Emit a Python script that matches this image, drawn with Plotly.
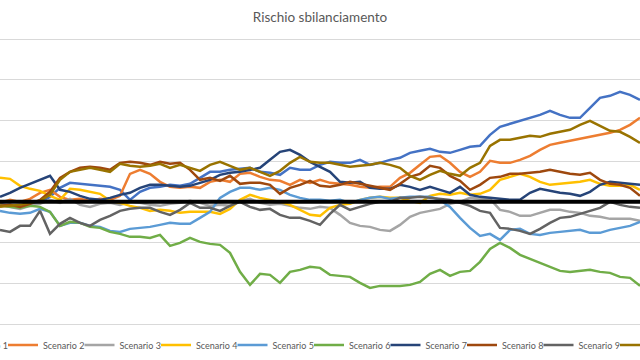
import plotly.graph_objects as go

# x positions: one sample per step along the (cropped) time axis
steps = list(range(65))

scenario_names = [f"Scenario {i}" for i in range(1, 11)]
colors = ["#4472C4", "#ED7D31", "#A5A5A5", "#FFC000", "#5B9BD5",
          "#70AD47", "#264478", "#9E480E", "#636363", "#997300"]

s1 = [-2, -4, -5, -3, -1, 5, 14, 19, 18, 17, 16, 15, 12, 2, 10, 14, 15, 17, 16, 18, 24, 30, 30, 32, 33, 34, 30, 29, 27, 34, 32, 32, 37, 40, 39, 39, 42, 37, 39, 42, 44, 49, 51, 53, 50, 49, 52, 55, 56, 67, 75, 78, 81, 84, 87, 91, 87, 84, 84, 94, 104, 106, 110, 107, 102]
s2 = [-1, 2, 0, 3, 9, 12, 5, 2, 3, 1, 3, 2, 6, 28, 32, 28, 20, 15, 14, 15, 14, 20, 22, 20, 28, 29, 25, 22, 21, 17, 22, 19, 22, 19, 18, 17, 15, 14, 15, 15, 24, 29, 37, 45, 46, 39, 30, 25, 30, 41, 39, 39, 42, 46, 52, 57, 59, 61, 63, 65, 67, 69, 72, 77, 84]
s3 = [-3, -5, -7, -4, -2, 2, -1, 3, -3, -5, -2, -1, -3, 0, -1, -3, -4, -2, -1, 1, -1, -4, -3, -4, 1, 3, -1, -3, -2, -4, -6, -7, -5, -6, -13, -21, -24, -25, -28, -29, -23, -15, -11, -9, -7, -2, 0, 4, 3, 3, -8, -10, -14, -14, -11, -8, -8, -10, -11, -14, -15, -17, -17, -17, -19]
s4 = [24, 23, 16, 13, 11, 6, 2, 13, 12, 10, 8, 1, -1, -4, -6, -9, -8, -9, -11, -10, -10, -10, -12, -7, 2, 7, 4, 2, 0, -3, -8, -13, -14, -6, -3, -2, 2, 4, 5, 4, 4, 1, -1, 6, 8, 7, 9, 7, 8, 12, 22, 25, 28, 25, 20, 17, 18, 19, 20, 22, 18, 16, 16, 17, 12]
s5 = [-9, -11, -12, -11, -7, -10, -24, -21, -21, -24, -25, -29, -30, -27, -26, -25, -23, -21, -22, -22, -16, -10, 4, 10, 14, 14, 12, 14, 12, 7, 4, 2, 2, 1, 2, -1, 2, 4, 5, 3, 4, 5, 5, 5, 2, -5, -16, -26, -34, -32, -38, -28, -27, -32, -33, -31, -30, -29, -28, -31, -31, -28, -26, -24, -20]
s6 = [-3, -5, -6, -4, -5, -10, -24, -20, -21, -25, -26, -30, -32, -35, -35, -36, -33, -44, -41, -36, -40, -42, -43, -51, -70, -83, -72, -73, -81, -70, -68, -65, -66, -73, -74, -75, -81, -86, -84, -84, -84, -83, -80, -72, -68, -74, -70, -69, -60, -47, -41, -46, -53, -57, -61, -65, -69, -70, -69, -68, -70, -71, -75, -76, -84]
s7 = [5, 9, 14, 18, 22, 26, 12, 10, 6, 3, 2, 4, 7, 9, 14, 17, 17, 16, 15, 16, 19, 22, 27, 29, 30, 32, 34, 42, 50, 52, 47, 40, 35, 30, 20, 19, 20, 14, 13, 13, 17, 15, 12, 15, 12, 9, 15, 7, 5, 4, 3, 2, 2, 9, 13, 11, 9, 8, 6, 10, 17, 20, 19, 18, 17]
s8 = [-4, -3, -5, -2, 2, 10, 24, 30, 34, 35, 34, 32, 39, 40, 39, 37, 40, 38, 39, 32, 22, 24, 21, 26, 18, 19, 19, 17, 8, 14, 17, 21, 16, 15, 17, 20, 18, 16, 14, 12, 18, 25, 28, 36, 34, 26, 21, 12, 17, 24, 25, 28, 28, 29, 30, 32, 30, 28, 27, 29, 22, 18, 17, 14, 6]
s9 = [-28, -30, -24, -24, -9, -32, -22, -16, -21, -24, -18, -14, -9, -7, -6, -6, -10, -13, -8, -1, -6, -6, -9, -4, 0, -5, -8, -7, -13, -16, -16, -19, -23, -12, -3, -8, -5, -2, 0, 0, 4, 4, 5, 4, 3, 2, -1, -4, -9, -11, -26, -27, -29, -32, -27, -21, -16, -15, -12, -9, -6, 0, -3, -5, -6]
s10 = [-5, -4, -3, -1, 1, 7, 22, 30, 32, 34, 32, 30, 38, 36, 35, 36, 38, 34, 37, 34, 31, 37, 40, 36, 32, 34, 30, 26, 31, 39, 45, 40, 39, 39, 37, 35, 36, 37, 39, 37, 34, 26, 22, 27, 31, 28, 26, 34, 39, 56, 62, 62, 64, 66, 65, 68, 70, 72, 77, 81, 76, 71, 70, 65, 59]
baseline = [0] * 65

series = [s1, s2, s3, s4, s5, s6, s7, s8, s9, s10]

fig = go.Figure()
for i, (name, col, vals) in enumerate(zip(scenario_names, colors, series)):
    fig.add_trace(go.Scatter(
        x=steps, y=vals, mode="lines", name=name,
        line=dict(color=col, width=2.5),
        legend="legend" if i < 5 else "legend2",
        legendwidth=50 if i in (4, 9) else None,
        hoverinfo="skip",
    ))
fig.add_trace(go.Scatter(x=steps, y=baseline, mode="lines", showlegend=False,
                         line=dict(color="black", width=4), hoverinfo="skip"))

grid_step = 40.7
pad = 2
leg_font = dict(family="Lato, Open Sans, sans-serif", size=9, color="#595959")
fig.update_layout(
    width=640, height=360,
    margin=dict(l=0, r=0, t=39 - pad, b=36 - pad, autoexpand=False),
    paper_bgcolor="white", plot_bgcolor="white",
    title=dict(text="Rischio sbilanciamento", x=0.5, xanchor="center",
               y=1 - 17 / 360, yanchor="middle", yref="container",
               font=dict(family="Lato, Open Sans, sans-serif", size=13.5, color="#595959")),
    xaxis=dict(range=[0, 64], showgrid=False, zeroline=False, showticklabels=False,
               showline=False, ticks=""),
    yaxis=dict(range=[-3 * grid_step - pad, 4 * grid_step + pad], tick0=0, dtick=grid_step,
               showgrid=True, gridcolor="#D9D9D9", gridwidth=1, zeroline=False,
               showticklabels=False, showline=False, ticks=""),
    legend=dict(orientation="h", x=-73.5 / 640, xanchor="left", y=-19 / 289, yanchor="middle",
                entrywidth=31.5, entrywidthmode="pixels", font=leg_font,
                bgcolor="rgba(0,0,0,0)"),
    legend2=dict(orientation="h", x=309 / 640, xanchor="left", y=-19 / 289, yanchor="middle",
                 entrywidth=31.5, entrywidthmode="pixels", font=leg_font,
                 bgcolor="rgba(0,0,0,0)"),
    showlegend=True,
)

fig.write_html("out.html", config={"displayModeBar": False},
               post_script="document.body.style.margin='0';document.body.style.overflow='hidden';")
